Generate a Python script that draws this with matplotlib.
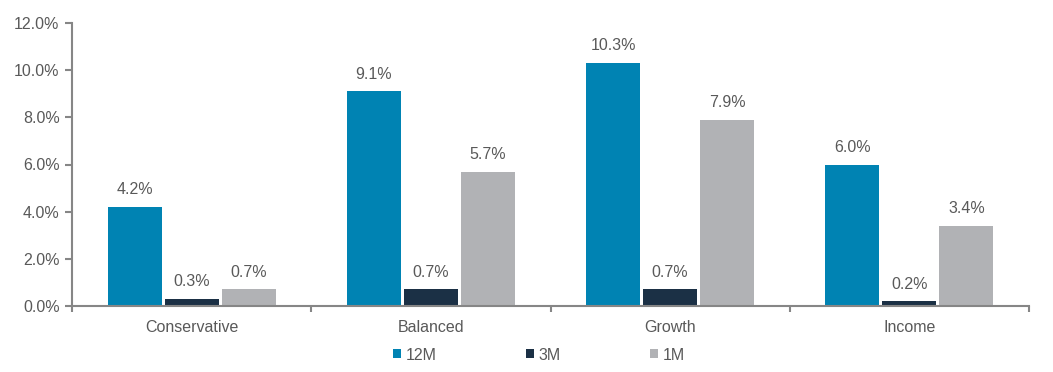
import matplotlib.pyplot as plt
import numpy as np
from matplotlib.ticker import FuncFormatter

# Data ==========================================================================
categories = ["Conservative", "Balanced", "Growth", "Income"]
series_names = ["12M", "3M", "1M"]
ret_12m = [4.2, 9.1, 10.3, 6.0]
ret_3m = [0.3, 0.7, 0.7, 0.2]
ret_1m = [0.7, 5.7, 7.9, 3.4]
colors = ["#0083B3", "#1B3045", "#B1B2B5"]

text_col = "#595959"
axis_col = "#868686"
fs = 11.5

plt.rcParams['font.family'] = ['Liberation Sans', 'DejaVu Sans']

fig = plt.figure(figsize=(10.53, 3.72), dpi=100)
ax = fig.add_axes([72 / 1053, 1 - 306 / 372, (1029 - 72) / 1053, (306 - 23) / 372])

x = np.arange(len(categories))
width = 54 / 239
step = 57 / 239
bars = []
for i, (vals, name) in enumerate(zip([ret_12m, ret_3m, ret_1m], series_names)):
    b = ax.bar(x + (i - 1) * step, vals, width, color=colors[i], label=name)
    bars.append(b)
    for rect, v in zip(b, vals):
        ax.annotate(f"{v:.1f}%", (rect.get_x() + rect.get_width() / 2, v),
                    xytext=(0, 7), textcoords="offset points",
                    ha="center", va="bottom", fontsize=fs, color=text_col)

ax.set_xlim(-0.5, len(categories) - 0.5)
ax.set_ylim(0, 12)
ax.set_yticks(np.arange(0, 12.1, 2))
ax.yaxis.set_major_formatter(FuncFormatter(lambda v, p: f"{v:.1f}%"))

ax.set_xticks(np.arange(-0.5, len(categories), 1))
ax.set_xticklabels([])
ax.set_xticks(x, minor=True)
ax.set_xticklabels(categories, minor=True)
ax.tick_params(axis="x", which="minor", length=0, pad=10, labelsize=fs, labelcolor=text_col)
ax.tick_params(axis="x", which="major", length=4, width=1.5, color=axis_col)
ax.tick_params(axis="y", length=5, width=1.5, color=axis_col, labelsize=fs,
               labelcolor=text_col, pad=4)

for s in ["top", "right"]:
    ax.spines[s].set_visible(False)
for s in ["left", "bottom"]:
    ax.spines[s].set_color(axis_col)
    ax.spines[s].set_linewidth(1.5)

leg = fig.legend(handles=bars, labels=series_names, loc="center",
                 bbox_to_anchor=(539 / 1053, 1 - 355 / 372), ncol=3, frameon=False,
                 fontsize=fs, handlelength=0.5, handleheight=0.5, handletextpad=0.3,
                 columnspacing=5.6)
for t in leg.get_texts():
    t.set_color(text_col)

fig.savefig("out.png", dpi=100)
